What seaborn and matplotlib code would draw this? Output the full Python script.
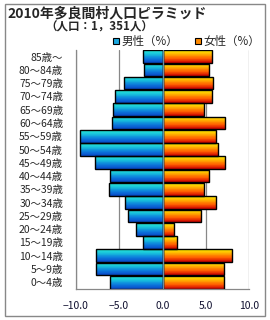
import matplotlib
matplotlib.use('Agg')
import matplotlib.pyplot as plt
import numpy as np
import pandas as pd
import seaborn as sns
from matplotlib.patches import Rectangle

ages = ['85歳～', '80～84歳', '75～79歳', '70～74歳', '65～69歳', '60～64歳',
        '55～59歳', '50～54歳', '45～49歳', '40～44歳', '35～39歳', '30～34歳',
        '25～29歳', '20～24歳', '15～19歳', '10～14歳', '5～9歳', '0～4歳']
male = [2.2, 2.1, 4.4, 5.5, 5.65, 5.8, 9.55, 9.55, 7.8, 6.1, 6.2, 4.3,
        4.0, 3.1, 2.2, 7.6, 7.6, 6.1]
female = [5.7, 5.3, 5.85, 5.7, 4.8, 7.2, 6.1, 6.4, 7.2, 5.3, 4.8, 6.2,
          4.45, 1.35, 1.7, 8.0, 7.1, 7.1]
xticks = [-10, -5, 0, 5, 10]

sns.set_style('white')
plt.rcParams['font.family'] = ['Noto Sans CJK JP', 'DejaVu Sans']

df = pd.DataFrame({'age': ages, 'male': [-m for m in male], 'female': female})

fig = plt.figure(figsize=(2.7, 3.2), dpi=100)
ax = fig.add_axes([0.280, 0.097, 0.644, 0.747])

sns.barplot(data=df, y='age', x='male', order=ages, orient='h', width=0.95,
            color='c', ax=ax)
sns.barplot(data=df, y='age', x='female', order=ages, orient='h', width=0.95,
            color='r', ax=ax)

# gradient fills (top light -> bottom dark)
male_cmap = matplotlib.colors.LinearSegmentedColormap.from_list('m', ['#28ecd8', '#18c0dc', '#0c78dc', '#0848c8'])
fem_cmap = matplotlib.colors.LinearSegmentedColormap.from_list('f', ['#fff400', '#ffb000', '#ff5a00', '#c80000'])
grad = np.linspace(0, 1, 32).reshape(-1, 1)
for p in list(ax.patches):
    x0, y0 = p.get_x(), p.get_y()
    w, h = p.get_width(), p.get_height()
    cmap = male_cmap if w < 0 else fem_cmap
    left, right = min(x0, x0 + w), max(x0, x0 + w)
    im = ax.imshow(grad, cmap=cmap, aspect='auto', origin='upper',
                   extent=[left, right, y0 + h, y0],
                   zorder=2, interpolation='nearest')
    im.set_clip_path(p)
    p.set_facecolor('none')
    p.set_edgecolor('black')
    p.set_linewidth(1.0)
    p.set_zorder(3)

ax.axvline(0, color='#6a8fa0', lw=1.0, zorder=4)

ax.set_xlim(-10, 10)
ax.set_ylim(17.5, -0.5)
ax.set_xticks(xticks)
ax.set_xticklabels(['−10.0', '−5.0', '0.0', '5.0', '10.0'], fontsize=7.5, color='#101030')
ax.tick_params(axis='y', labelsize=7.5, pad=9, length=0)
ax.tick_params(axis='x', pad=9, length=0)
ax.set_xlabel('')
ax.set_ylabel('')
ax.grid(axis='x', color='#888888', lw=0.9, zorder=0)
ax.set_axisbelow(True)
for s in ['top', 'right']:
    ax.spines[s].set_visible(False)
for s in ['left', 'bottom']:
    ax.spines[s].set_color('#888888')
    ax.spines[s].set_linewidth(0.9)

# outer frame
fig.patches.append(Rectangle((5 / 270, 4 / 320), 260 / 270, 312 / 320, transform=fig.transFigure,
                             fill=False, edgecolor='#888888', lw=1.0))

fig.text(7 / 270, 1 - 13 / 320, '2010年多良間村人口ピラミッド', fontsize=10,
         fontweight='bold', va='center', ha='left')
fig.text(99 / 270, 1 - 27 / 320, '（人口：1，351人）', fontsize=8.3, fontweight='bold',
         va='center', ha='center')

# legend
fig.patches.append(Rectangle((113 / 270, 1 - 44 / 320), 6 / 270, 6 / 320, transform=fig.transFigure,
                             facecolor='#1aa8e0', edgecolor='black', lw=0.8))
fig.text(121 / 270, 1 - 41 / 320, '男性（%）', fontsize=8.3, va='center', ha='left')
fig.patches.append(Rectangle((195 / 270, 1 - 44 / 320), 6 / 270, 6 / 320, transform=fig.transFigure,
                             facecolor='#ff8a00', edgecolor='black', lw=0.8))
fig.text(203 / 270, 1 - 41 / 320, '女性（%）', fontsize=8.3, va='center', ha='left')

fig.savefig('out.png', dpi=100)
